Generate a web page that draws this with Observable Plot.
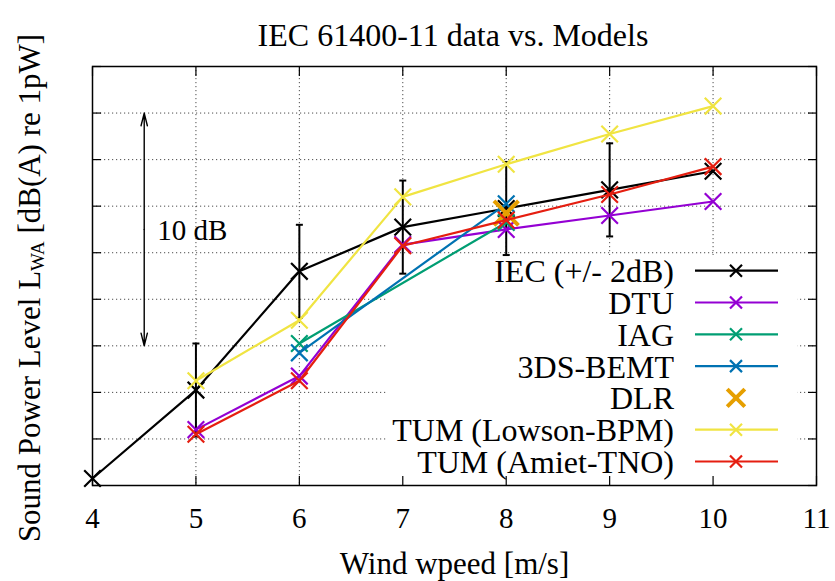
<!DOCTYPE html>
<html><head><meta charset="utf-8">
<script src="https://cdn.jsdelivr.net/npm/d3@7"></script>
<script src="https://cdn.jsdelivr.net/npm/@observablehq/plot@0.6"></script>
<style>
body{margin:0;background:#fff;}
#wrap{position:relative;width:835px;height:581px;font-family:"Liberation Serif",serif;color:#000;overflow:hidden;}
#title{height:56px;box-sizing:border-box;padding-top:18px;padding-left:71px;line-height:34px;font-size:32px;text-align:center;white-space:nowrap;}
#ylabel{position:absolute;left:30px;top:288px;transform:translate(-50%,-50%) rotate(-90deg);white-space:nowrap;font-size:31px;line-height:30px;height:30px;}
#ylabel sub{font-size:19px;line-height:0;vertical-align:-4px;}
svg{display:block;}
</style>
</head><body>
<div id="wrap">
  <div id="title">IEC 61400-11 data vs. Models</div>
  <div id="chart"></div>
  <div id="ylabel">Sound Power Level L<sub>WA</sub> [dB(A) re 1pW]</div>
</div>
<script>
// ---- data (wind speed in m/s, sound power level in dB(A)) ----
const iecSpeed = [4, 5, 6, 7, 8, 9, 10];
const iecLevel = [90.3, 94.1, 99.2, 101.1, 101.9, 102.7, 103.5];
const iecErr   = [0, 2, 2, 2, 2, 2, 0];

const dtuSpeed = [5, 6, 7, 8, 9, 10];
const dtuLevel = [92.4, 94.7, 100.35, 101.0, 101.6, 102.2];

const iagSpeed = [6, 8];
const iagLevel = [96.1, 101.3];

const bemtSpeed = [6, 8];
const bemtLevel = [95.7, 102.1];

const dlrSpeed = [8];
const dlrLevel = [101.7];

const lowsonSpeed = [5, 6, 7, 8, 9, 10];
const lowsonLevel = [94.5, 97.1, 102.4, 103.8, 105.1, 106.3];

const amietSpeed = [5, 6, 7, 8, 9, 10];
const amietLevel = [92.2, 94.5, 100.3, 101.4, 102.5, 103.7];

const seriesNames  = ["IEC (+/- 2dB)", "DTU", "IAG", "3DS-BEMT", "DLR", "TUM (Lowson-BPM)", "TUM (Amiet-TNO)"];
const seriesColors = ["#000000", "#9400d3", "#009e73", "#0072b2", "#e69f00", "#f0e442", "#e51e10"];

const xTicks = [4, 5, 6, 7, 8, 9, 10, 11];
const yTicks = [90, 92, 94, 96, 98, 100, 102, 104, 106, 108];

// annotation: 10 dB span
const spanX = 4.5, spanLow = 96, spanHigh = 106;
const spanLabel = "10 dB", spanLabelX = 4.626, spanLabelY = 100.93;

// ---- build rows ----
const rows = (xs, ys) => xs.map((x, i) => ({x, y: ys[i]}));
const iecRows = rows(iecSpeed, iecLevel);
const errRows = iecSpeed.map((x, i) => ({x, y: iecLevel[i], e: iecErr[i]})).filter(d => d.e > 0);
const capRows = errRows.flatMap(d => [{x: d.x, y: d.y - d.e}, {x: d.x, y: d.y + d.e}]);
const lineSeries = [
  {rows: rows(dtuSpeed, dtuLevel), color: seriesColors[1]},
  {rows: rows(iagSpeed, iagLevel), color: seriesColors[2]},
  {rows: rows(bemtSpeed, bemtLevel), color: seriesColors[3]},
];
const lateSeries = [
  {rows: rows(lowsonSpeed, lowsonLevel), color: seriesColors[5]},
  {rows: rows(amietSpeed, amietLevel), color: seriesColors[6]},
];

const capSymbol = {draw(ctx) { ctx.moveTo(-3.5, 0); ctx.lineTo(3.5, 0); }};
const LW = 2.2, MR = 7.6;
const FONT = "Liberation Serif";

function seriesMarks(s) {
  return [
    Plot.line(s.rows, {x: "x", y: "y", stroke: s.color, strokeWidth: LW}),
    Plot.dot(s.rows, {x: "x", y: "y", symbol: "times", r: MR, stroke: s.color, strokeWidth: LW})
  ];
}

// legend box (behind the data, hides the grid)
function legendBox() {
  const g = d3.create("svg:g");
  g.append("rect").attr("x", 387).attr("y", 199).attr("width", 410).attr("height", 230).attr("fill", "#fff");
  return g.node();
}
// legend entries
function legendEntries() {
  const g = d3.create("svg:g").attr("font-family", FONT).attr("font-size", 32).attr("fill", "#000");
  seriesNames.forEach((name, i) => {
    const cy = 214.7 + i * 31.8;
    g.append("text").attr("x", 674).attr("y", cy + 11.5).attr("text-anchor", "end").text(name);
    const isDLR = name === "DLR";
    if (!isDLR) {
      g.append("line").attr("x1", 695).attr("x2", 778).attr("y1", cy).attr("y2", cy)
        .attr("stroke", seriesColors[i]).attr("stroke-width", LW);
    }
    const h = isDLR ? 8.8 : 6;
    g.append("path").attr("transform", `translate(736,${cy})`)
      .attr("d", `M${-h},${-h}L${h},${h}M${-h},${h}L${h},${-h}`)
      .attr("fill", "none").attr("stroke", seriesColors[i]).attr("stroke-width", isDLR ? 4 : LW);
  });
  return g.node();
}

const gridStyle = {stroke: "#000", strokeOpacity: 0.7, strokeDasharray: "1.2,2.8", strokeWidth: 1};

const chart = Plot.plot({
  width: 835, height: 525,
  marginLeft: 92, marginRight: 19, marginTop: 10, marginBottom: 96,
  x: {domain: [4, 11]},
  y: {domain: [90, 108]},
  style: {fontFamily: FONT, fontSize: "29px", color: "#000", background: "#fff", overflow: "visible"},
  marks: [
    Plot.gridY(yTicks.slice(1, -1), gridStyle),
    Plot.gridX(xTicks.slice(1, -1), gridStyle),
    legendBox,
    Plot.arrow([{x: spanX, y1: (spanLow + spanHigh) / 2, y2: spanHigh}, {x: spanX, y1: (spanLow + spanHigh) / 2, y2: spanLow}],
      {x1: "x", x2: "x", y1: "y1", y2: "y2", headLength: 14, headAngle: 28, stroke: "#000", strokeWidth: 1.4}),
    Plot.text([{x: spanLabelX, y: spanLabelY, t: spanLabel}], {x: "x", y: "y", text: "t", textAnchor: "start", fontSize: 29, fill: "#000"}),
    Plot.line(iecRows, {x: "x", y: "y", stroke: "#000", strokeWidth: LW}),
    Plot.ruleX(errRows, {x: "x", y1: d => d.y - d.e, y2: d => d.y + d.e, stroke: "#000", strokeWidth: 2}),
    Plot.dot(capRows, {x: "x", y: "y", symbol: capSymbol, r: 4, stroke: "#000", strokeWidth: 2}),
    Plot.dot(iecRows, {x: "x", y: "y", symbol: "times", r: MR, stroke: "#000", strokeWidth: LW}),
    ...lineSeries.flatMap(seriesMarks),
    Plot.dot(rows(dlrSpeed, dlrLevel), {x: "x", y: "y", symbol: "times", r: 11.2, stroke: seriesColors[4], strokeWidth: 4}),
    ...lateSeries.flatMap(seriesMarks),
    legendEntries,
    Plot.frame({stroke: "#000", strokeWidth: 1.5}),
    Plot.axisX(xTicks, {anchor: "bottom", tickSize: -9, tickPadding: 31.4, label: null, fontSize: 29, strokeWidth: 1.2}),
    Plot.axisX(xTicks, {anchor: "top", tickSize: -9, tickFormat: () => "", label: null, strokeWidth: 1.2}),
    Plot.axisY(yTicks, {anchor: "left", tickSize: -9, tickFormat: () => "", label: null, strokeWidth: 1.2}),
    Plot.axisY(yTicks, {anchor: "right", tickSize: -9, tickFormat: () => "", label: null, strokeWidth: 1.2}),
    Plot.text(["Wind wpeed [m/s]"], {text: d => d, frameAnchor: "bottom", lineAnchor: "top", dy: 66.4, fontSize: 31, fill: "#000"})
  ]
});
document.getElementById("chart").appendChild(chart);
</script>
</body></html>
